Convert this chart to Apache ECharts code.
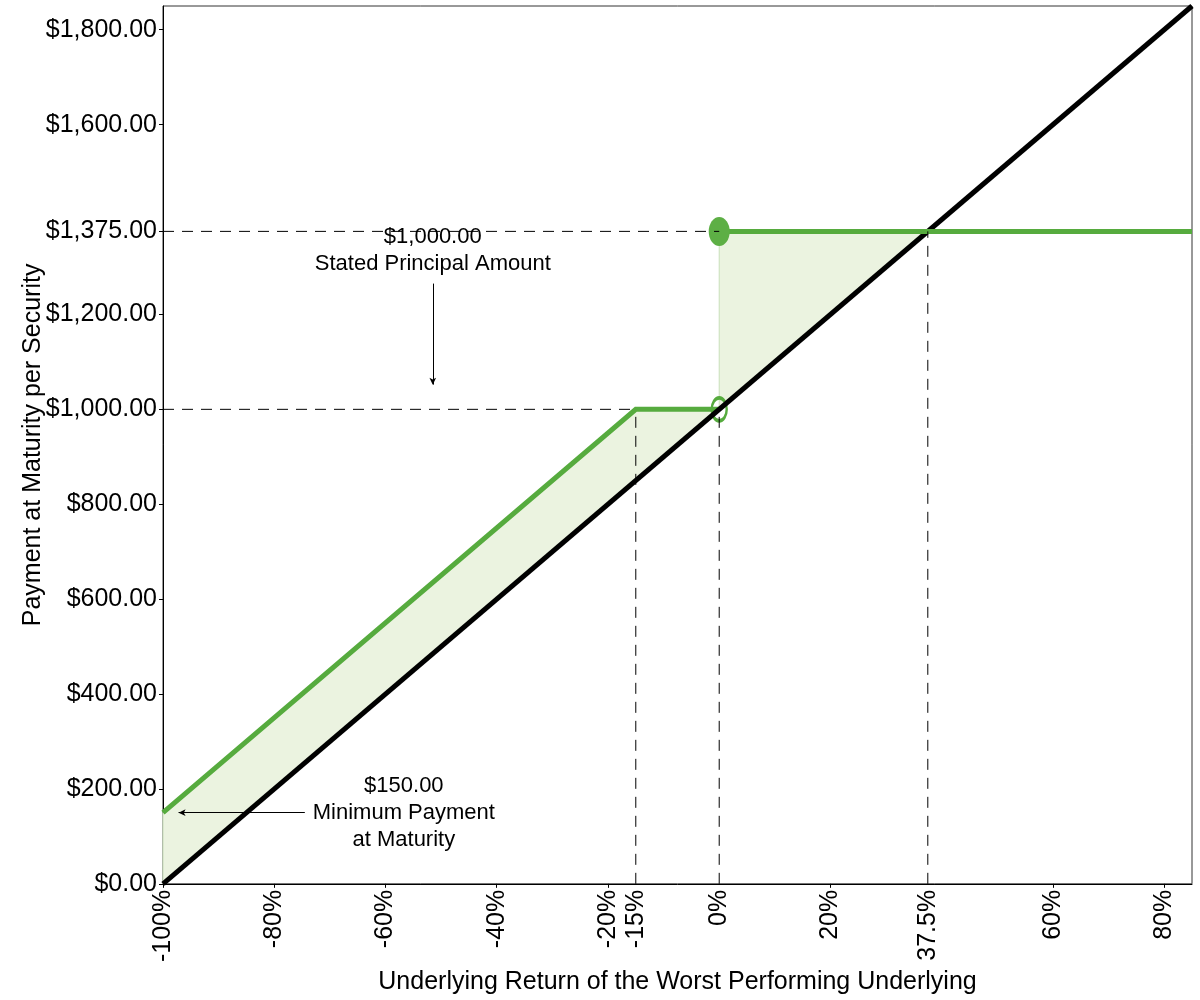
<!DOCTYPE html>
<html>
<head>
    <meta charset="utf-8">
    <title>Payment at Maturity</title>
    <style>
        html, body { margin: 0; padding: 0; background: #fff; }
        #container { width: 1200px; height: 1000px; }
    </style>
</head>
<body>
<div id="container"></div>
<script src="https://cdn.jsdelivr.net/npm/echarts@6/dist/echarts.min.js"></script>
<script type="text/javascript">
    // tick positions (percent return / payment in $)
    var xTicks = [-100, -80, -60, -40, -20, -15, 0, 20, 37.5, 60, 80];
    var xMinorTicks = [-100, -80, -60, -40, -20, 20, 60, 80];
    var yTicks = [0, 200, 400, 600, 800, 1000, 1200, 1375, 1600, 1800];

    // underlying return line (black)
    var underlyingLine = [[-100, 0], [85, 1850]];
    // security payment (green)
    var paymentLow = [[-100, 150], [-15, 1000], [0, 1000]];
    var paymentHigh = [[0, 1375], [85, 1375]];
    var openPoint = [[0, 1000]];
    var filledPoint = [[0, 1375]];
    // shaded area between payment and underlying
    var shadeArea = [[-100, 150], [-15, 1000], [0, 1000], [0, 1375], [37.5, 1375], [-100, 0]];
    // dashed guide lines
    var guideLines = [
        [[-100, 1375], [0, 1375]],
        [[-100, 1000], [-15, 1000]],
        [[-15, 0], [-15, 1000]],
        [[0, 0], [0, 1000]],
        [[37.5, 0], [37.5, 1375]]
    ];
    // annotations
    var principalNote = {text: '$1,000.00\nStated Principal Amount', at: [-51.5, 1334]};
    var principalArrow = [[-51.5, 1265], [-51.5, 1052]];
    var minNote = {text: '$150.00\nMinimum Payment\nat Maturity', at: [-56.7, 150]};
    var minArrow = [[-74.5, 150], [-97.2, 150]];

    var green = '#56AB3E';
    var font = 'Liberation Sans, Arial, sans-serif';

    function money(v) {
        return '$' + v.toFixed(2).replace(/\B(?=(\d{3})+(?!\d))/g, ',');
    }

    var myChart = echarts.init(document.getElementById('container'));

    var series = [];

    series.push({
        type: 'custom',
        silent: true,
        z: 1,
        data: [0],
        renderItem: function (params, api) {
            var pts = shadeArea.map(function (p) { return api.coord(p); });
            return {
                type: 'polygon',
                shape: {points: pts},
                style: {fill: '#EBF3E0', stroke: '#C9E0BA', lineWidth: 1}
            };
        }
    });

    guideLines.forEach(function (seg) {
        series.push({
            type: 'line',
            data: seg,
            symbol: 'none',
            silent: true,
            z: 5,
            lineStyle: {color: '#000', width: 1, type: [11, 8]}
        });
    });

    series.push({
        type: 'line',
        data: underlyingLine,
        symbol: 'none',
        z: 3,
        lineStyle: {color: '#000', width: 5}
    });
    series.push({
        type: 'line',
        data: paymentLow,
        symbol: 'none',
        z: 2,
        lineStyle: {color: green, width: 5, cap: 'butt', join: 'miter'}
    });
    series.push({
        type: 'line',
        data: paymentHigh,
        symbol: 'none',
        z: 4,
        lineStyle: {color: green, width: 5, cap: 'butt'}
    });
    series.push({
        type: 'scatter',
        data: openPoint,
        symbol: 'circle',
        symbolSize: [15, 23],
        z: 2,
        itemStyle: {color: 'rgba(0,0,0,0)', borderColor: green, borderWidth: 3, opacity: 1}
    });
    series.push({
        type: 'scatter',
        data: filledPoint,
        symbol: 'circle',
        symbolSize: [21, 29],
        z: 4,
        itemStyle: {color: '#5DAF45', opacity: 1}
    });

    // arrows
    series.push({
        type: 'line',
        data: [],
        markLine: {
            silent: true,
            symbol: ['none', 'arrow'],
            symbolSize: [5, 7],
            label: {show: false},
            lineStyle: {color: '#000', width: 1, type: 'solid'},
            data: [
                [{coord: principalArrow[0]}, {coord: principalArrow[1]}],
                [{coord: minArrow[0]}, {coord: minArrow[1]}]
            ]
        }
    });

    var option = {
        animation: false,
        backgroundColor: '#fff',
        grid: {
            left: 163,
            right: 8,
            top: 6,
            bottom: 116,
            show: true,
            borderColor: '#333',
            borderWidth: 1
        },
        xAxis: {
            type: 'value',
            min: -100,
            max: 85,
            name: 'Underlying Return of the Worst Performing Underlying',
            nameLocation: 'middle',
            nameGap: 79,
            nameTextStyle: {fontFamily: font, fontSize: 25, color: '#000'},
            axisLine: {show: true, onZero: false, lineStyle: {color: '#000', width: 1}},
            axisTick: {show: true, length: 4, customValues: xMinorTicks, lineStyle: {color: '#000'}},
            splitLine: {show: false},
            axisLabel: {
                customValues: xTicks,
                rotate: 90,
                margin: 6,
                fontFamily: font,
                fontSize: 25,
                color: '#000',
                showMinLabel: true,
                showMaxLabel: true,
                formatter: function (v) { return v + '%'; }
            }
        },
        yAxis: {
            type: 'value',
            min: 0,
            max: 1850,
            name: 'Payment at Maturity per Security',
            nameLocation: 'middle',
            nameGap: 117,
            nameMoveOverlap: false,
            nameTextStyle: {fontFamily: font, fontSize: 25, color: '#000'},
            axisLine: {show: true, onZero: false, lineStyle: {color: '#000', width: 1}},
            axisTick: {show: true, length: 4, customValues: yTicks, lineStyle: {color: '#000'}},
            splitLine: {show: false},
            axisLabel: {
                customValues: yTicks,
                margin: 6,
                fontFamily: font,
                fontSize: 25,
                color: '#000',
                formatter: function (v) { return money(v); }
            }
        },
        series: series
    };

    myChart.setOption(option, true);

    // annotation texts, positioned from data coordinates
    function note(n) {
        var p = myChart.convertToPixel({gridIndex: 0}, n.at);
        return {
            type: 'text',
            x: p[0],
            y: p[1],
            z: 100,
            silent: true,
            style: {
                text: n.text,
                fontFamily: font,
                fontSize: 22,
                lineHeight: 27,
                fill: '#000',
                align: 'center',
                verticalAlign: 'middle'
            }
        };
    }
    myChart.setOption({graphic: [note(principalNote), note(minNote)]});
</script>
</body>
</html>
